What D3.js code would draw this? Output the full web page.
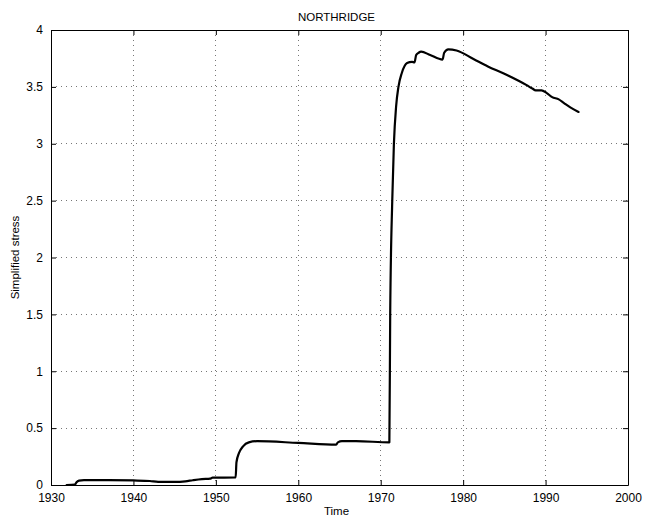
<!DOCTYPE html>
<html><head><meta charset="utf-8">
<script src="https://cdn.jsdelivr.net/npm/d3@7"></script>
<style>
body{margin:0;background:#fff;}
text{font-family:"Liberation Sans",Arial,Helvetica,sans-serif;}
</style></head>
<body><svg id="c" width="655" height="521"></svg>
<script>
const titleText = "NORTHRIDGE";
const xLabel = "Time";
const yLabel = "Simplified stress";
const xTicks = [1930,1940,1950,1960,1970,1980,1990,2000];
const yTicks = [0,0.5,1,1.5,2,2.5,3,3.5,4];
const years = [1931.9,1932.9,1933.1,1933.4,1934,1937,1940,1942,1943,1945,1946.3,1947.2,1948.3,1949.3,1949.6,1952.4,
  1952.5,1952.8,1953.3,1954,1955,1960,1964.6,1964.8,1965.3,1967,1971.05,1971.15,1971.4,1971.6,1971.87,1972.15,1972.55,
  1973.2,1973.8,1974.1,1974.3,1974.6,1974.9,1976,1977.5,1977.7,1978.2,1979.2,1981.25,1983,1985,1987.7,1988.4,1988.8,1989.5,
  1990.15,1990.8,1991.6,1992.2,1993,1994];
const stress = [0,0.003,0.025,0.038,0.043,0.043,0.040,0.035,0.028,0.027,0.032,0.042,0.052,0.056,0.064,0.066,
  0.2,0.28,0.34,0.375,0.385,0.37,0.355,0.375,0.385,0.385,0.375,1.5,2.5,3.0,3.33,3.5,3.62,
  3.71,3.72,3.715,3.78,3.80,3.81,3.78,3.74,3.80,3.83,3.82,3.745,3.68,3.615,3.515,3.485,3.47,3.47,
  3.445,3.41,3.39,3.36,3.32,3.28];

const svg = d3.select("#c");
const L=51,R=628,T=30,B=485;
const x = d3.scaleLinear().domain([1930,2000]).range([L,R]);
const y = d3.scaleLinear().domain([0,4]).range([B,T]);

const g = svg.append("g");
g.selectAll(".vg").data(xTicks.slice(1,-1)).enter().append("line")
  .attr("x1",d=>x(d)).attr("x2",d=>x(d)).attr("y1",T).attr("y2",B)
  .attr("stroke","#777").attr("stroke-width",1).attr("stroke-dasharray","1,4").attr("shape-rendering","crispEdges");
g.selectAll(".hg").data(yTicks.slice(1,-1)).enter().append("line")
  .attr("y1",d=>y(d)).attr("y2",d=>y(d)).attr("x1",L).attr("x2",R)
  .attr("stroke","#777").attr("stroke-width",1).attr("stroke-dasharray","1,4").attr("shape-rendering","crispEdges");

const xb = svg.append("g").attr("transform",`translate(0,${B})`)
  .call(d3.axisBottom(x).tickValues(xTicks).tickFormat(d3.format("d")).tickSizeInner(-5).tickSizeOuter(0).tickPadding(8));
const xt = svg.append("g").attr("transform",`translate(0,${T})`)
  .call(d3.axisTop(x).tickValues(xTicks).tickFormat("").tickSizeInner(-5).tickSizeOuter(0));
const yl = svg.append("g").attr("transform",`translate(${L},0)`)
  .call(d3.axisLeft(y).tickValues(yTicks).tickFormat(d=>String(d)).tickSizeInner(-5).tickSizeOuter(0).tickPadding(8));
const yr = svg.append("g").attr("transform",`translate(${R},0)`)
  .call(d3.axisRight(y).tickValues(yTicks).tickFormat("").tickSizeInner(-5).tickSizeOuter(0));
[xb,xt,yl,yr].forEach(a=>{
  a.selectAll("path").attr("stroke","#000").attr("stroke-width",1);
  a.selectAll("line").attr("stroke","#000");
  a.selectAll("text").attr("font-size","12px").attr("fill","#000")
   .style("font-family",'"Liberation Sans",Arial,sans-serif');
});

const data = years.map((d,i)=>[d,stress[i]]);
svg.append("path").datum(data)
  .attr("d",d3.line().x(d=>x(d[0])).y(d=>y(d[1])).curve(d3.curveMonotoneX))
  .attr("fill","none").attr("stroke","#000").attr("stroke-width",2.2)
  .attr("stroke-linejoin","round").attr("stroke-linecap","round");

svg.append("text").attr("x",(L+R)/2-3).attr("y",21).attr("text-anchor","middle")
  .attr("font-size","11.5px").text(titleText);
svg.append("text").attr("x",(L+R)/2-3).attr("y",515).attr("text-anchor","middle")
  .attr("font-size","11.5px").text(xLabel);
svg.append("text").attr("transform",`translate(19,${(T+B)/2}) rotate(-90)`).attr("text-anchor","middle")
  .attr("font-size","11.5px").text(yLabel);
</script></body></html>
